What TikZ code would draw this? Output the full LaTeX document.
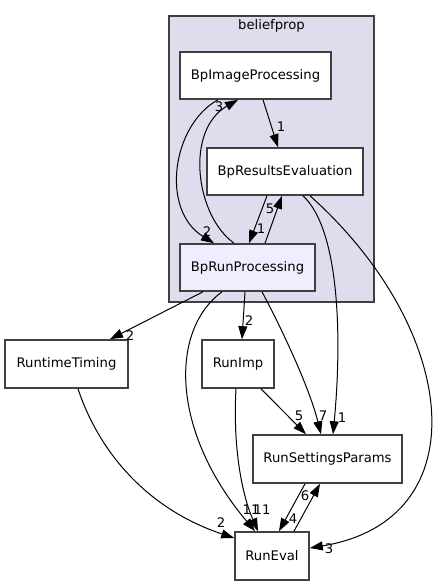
\documentclass[tikz,border=0pt]{standalone}
\usepackage{fontspec}
\setmainfont{DejaVu Sans}
\usetikzlibrary{arrows.meta}
\definecolor{clusterFill}{HTML}{DDDDEE}
\definecolor{currentFill}{HTML}{EEEEFF}
\definecolor{borde}{HTML}{404040}

\begin{document}
\begin{tikzpicture}[x=1pt,y=-1pt]
    \tikzset{dirNode/.style = {shape=rectangle,draw=borde,line width=1.6pt,fill=white,inner sep=0pt,minimum height=47pt,font=\fontsize{13.2}{15}\selectfont}}
    \tikzset{CurrentDir/.style = {dirNode,fill=currentFill}}
    \tikzset{myCluster/.style = {shape=rectangle,draw=borde,line width=1.6pt,fill=clusterFill,inner sep=0pt}}

    \tikzset{depArrow/.style = {-{Triangle[length=13pt,width=9pt]},line width=1pt}}
    \tikzset{countLabel/.style = {inner sep=0pt,font=\fontsize{13.2}{15}\selectfont}}

    \useasboundingbox (0,0) rectangle (437,585);

    \node[myCluster,minimum width=205pt,minimum height=286pt] (beliefprop) at (271.5,159) {};
    \node[countLabel] (beliefpropTitle) at (271.5,26) {beliefprop};

    \node[dirNode,minimum width=151pt] (BpImg) at (255.5,75.5) {BpImageProcessing};
    \node[dirNode,minimum width=156pt] (BpRes) at (285,171.5) {BpResultsEvaluation};
    \node[CurrentDir,minimum width=135pt] (BpRun) at (247.5,267.5) {BpRunProcessing};

    \node[dirNode,minimum width=123pt,minimum height=48pt] (Timing) at (66.5,364) {RuntimeTiming};
    \node[dirNode,minimum width=72pt,minimum height=48pt] (RunImp) at (238,364) {RunImp};
    \node[dirNode,minimum width=149pt,minimum height=48pt] (Settings) at (327.5,459) {RunSettingsParams};
    \node[dirNode,minimum width=74pt,minimum height=48pt] (RunEval) at (272,556) {RunEval};

    \draw[depArrow] ([xshift=7.5pt]BpImg.south) -- ([xshift=-7pt]BpRes.north);
    \node[countLabel] (nImgRes) at (281,127) {1};
    \draw[depArrow] ([xshift=-37.5pt]BpImg.south) .. controls (172,125) and (160,210) .. ([xshift=-33.5pt]BpRun.north);
    \node[countLabel] (nImgRun) at (207,232) {2};
    \draw[depArrow] ([xshift=-13.5pt]BpRun.north) .. controls (195,215) and (185,130) .. ([xshift=-17.5pt]BpImg.south);
    \node[countLabel] (nRunImg) at (219,107) {3};

    \draw[depArrow] ([xshift=-18pt]BpRes.south) -- ([xshift=1.5pt]BpRun.north);
    \node[countLabel] (nResRun) at (261,229) {1};
    \draw[depArrow] ([xshift=17.5pt]BpRun.north) -- ([xshift=-3pt]BpRes.south);
    \node[countLabel] (nRunRes) at (270,209) {5};

    \draw[depArrow] ([xshift=18pt]BpRes.south) .. controls (340,230) and (342,340) .. ([xshift=5.5pt]Settings.north);
    \node[countLabel] (nResSet) at (342,418) {1};
    \draw[depArrow] ([xshift=25pt]BpRes.south) .. controls (460,330) and (480,520) .. ([yshift=8pt]RunEval.east);
    \node[countLabel] (nResEval) at (329,549) {3};

    \draw[depArrow] ([xshift=-44.5pt]BpRun.south) -- ([xshift=43.5pt]Timing.north);
    \node[countLabel] (nRunTim) at (130,336) {2};
    \draw[depArrow] ([xshift=-2.5pt]BpRun.south) -- ([xshift=4pt]RunImp.north);
    \node[countLabel] (nRunImp) at (249,321) {2};
    \draw[depArrow] ([xshift=-25.5pt]BpRun.south) .. controls (170,330) and (170,430) .. ([xshift=-17pt]RunEval.north);
    \node[countLabel] (nRunEval) at (251,510) {11};
    \draw[depArrow] ([xshift=14.5pt]BpRun.south) .. controls (285,335) and (310,390) .. ([xshift=-6.5pt]Settings.north);
    \node[countLabel] (nRunSet) at (323,416) {7};

    \draw[depArrow] ([xshift=11.5pt]Timing.south) .. controls (100,455) and (150,510) .. ([yshift=18pt]RunEval.west);
    \node[countLabel] (nTimEval) at (221,523) {2};
    \draw[depArrow] ([xshift=-2pt]RunImp.south) .. controls (233,440) and (240,490) .. ([xshift=-14pt]RunEval.north);
    \node[countLabel] (nImpEval) at (262,510) {11};
    \draw[depArrow] ([xshift=23pt]RunImp.south) -- ([xshift=-21.5pt]Settings.north);
    \node[countLabel] (nImpSet) at (299,416) {5};

    \draw[depArrow] ([xshift=-22.5pt]Settings.south) -- ([xshift=7pt]RunEval.north);
    \node[countLabel] (nSetEval) at (293,519) {4};
    \draw[depArrow] ([xshift=22pt]RunEval.north) -- ([xshift=-7.5pt]Settings.south);
    \node[countLabel] (nEvalSet) at (305,496) {6};

\end{tikzpicture}
\end{document}
